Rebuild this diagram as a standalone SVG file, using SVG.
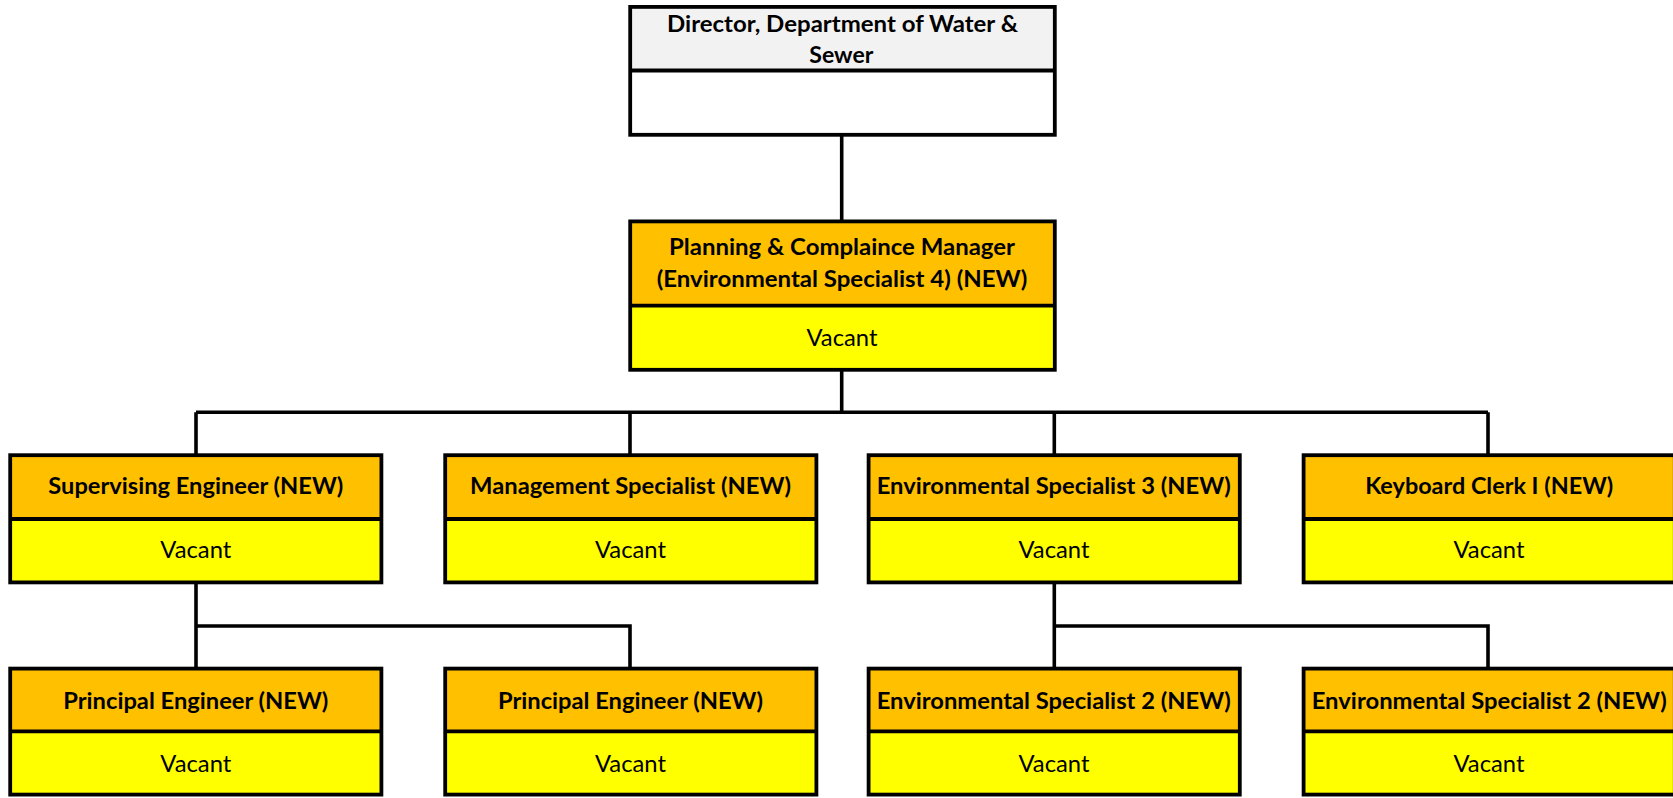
<svg xmlns="http://www.w3.org/2000/svg" width="1673" height="798" viewBox="0 0 1673 798">
  <style>
    .frame { fill: none; stroke: #000; stroke-width: 3.8; }
    .div { stroke: #000; stroke-width: 3.8; }
    .grey { fill: #F2F2F2; }
    .white { fill: #FFFFFF; }
    .orange { fill: #FFC000; }
    .yellow { fill: #FFFF00; }
    .title { font-family: Lato, "Liberation Sans", sans-serif; font-weight: bold; font-size: 23px; fill: #000; text-anchor: middle; }
    .name { font-family: Lato, "Liberation Sans", sans-serif; font-size: 23px; fill: #000; text-anchor: middle; }
    .wire { fill: none; stroke: #000; stroke-width: 3.6; }
  </style>
  <rect width="1673" height="798" fill="#FFFFFF"/>

  <!-- reporting lines -->
  <g id="connectors">
    <path class="wire" d="M841.7 136 V220"/>
    <path class="wire" d="M841.7 371 V412.3"/>
    <path class="wire" d="M196 412.3 H1488"/>
    <path class="wire" d="M196 412.3 V454 M630 412.3 V454 M1054.3 412.3 V454 M1488 412.3 V454"/>
    <path class="wire" d="M196 583 V667 M196 626 H630 V667"/>
    <path class="wire" d="M1054.3 583 V667 M1054.3 626 H1488 V667"/>
  </g>

  <!-- director -->
  <g id="director">
    <rect class="grey" x="630.2" y="6.9" width="424.6" height="63.6"/>
    <rect class="white" x="630.2" y="70.5" width="424.6" height="64.3"/>
    <rect class="frame" x="630.2" y="6.9" width="424.6" height="127.9"/>
    <line class="div" x1="630.2" y1="70.5" x2="1054.8" y2="70.5"/>
    <text class="title" x="842.5" y="31.7" textLength="351" lengthAdjust="spacingAndGlyphs">Director, Department of Water &amp;</text>
    <text class="title" x="841.3" y="63.3" textLength="64" lengthAdjust="spacingAndGlyphs">Sewer</text>
  </g>

  <!-- planning & compliance manager -->
  <g id="manager">
    <rect class="orange" x="630.2" y="221.4" width="424.6" height="84.3"/>
    <rect class="yellow" x="630.2" y="305.7" width="424.6" height="64.1"/>
    <rect class="frame" x="630.2" y="221.4" width="424.6" height="148.4"/>
    <line class="div" x1="630.2" y1="305.7" x2="1054.8" y2="305.7"/>
    <text class="title" x="842" y="255" textLength="346" lengthAdjust="spacingAndGlyphs">Planning &amp; Complaince Manager</text>
    <text class="title" x="842" y="287" textLength="370.6" lengthAdjust="spacingAndGlyphs">(Environmental Specialist 4) (NEW)</text>
    <text class="name" x="842" y="345.7" textLength="71" lengthAdjust="spacingAndGlyphs">Vacant</text>
  </g>

  <!-- second tier -->
  <g id="supervising-engineer">
    <rect class="orange" x="10.2" y="455.2" width="371.2" height="63.8"/>
    <rect class="yellow" x="10.2" y="519" width="371.2" height="63.4"/>
    <rect class="frame" x="10.2" y="455.2" width="371.2" height="127.2"/>
    <line class="div" x1="10.2" y1="519" x2="381.4" y2="519"/>
    <text class="title" x="195.8" y="494.3" textLength="295" lengthAdjust="spacingAndGlyphs">Supervising Engineer (NEW)</text>
    <text class="name" x="195.8" y="558.3" textLength="71" lengthAdjust="spacingAndGlyphs">Vacant</text>
  </g>
  <g id="management-specialist">
    <rect class="orange" x="445.2" y="455.2" width="371.2" height="63.8"/>
    <rect class="yellow" x="445.2" y="519" width="371.2" height="63.4"/>
    <rect class="frame" x="445.2" y="455.2" width="371.2" height="127.2"/>
    <line class="div" x1="445.2" y1="519" x2="816.4" y2="519"/>
    <text class="title" x="630.5" y="494.3" textLength="321" lengthAdjust="spacingAndGlyphs">Management Specialist (NEW)</text>
    <text class="name" x="630.5" y="558.3" textLength="71" lengthAdjust="spacingAndGlyphs">Vacant</text>
  </g>
  <g id="environmental-specialist-3">
    <rect class="orange" x="868.6" y="455.2" width="371.2" height="63.8"/>
    <rect class="yellow" x="868.6" y="519" width="371.2" height="63.4"/>
    <rect class="frame" x="868.6" y="455.2" width="371.2" height="127.2"/>
    <line class="div" x1="868.6" y1="519" x2="1239.8" y2="519"/>
    <text class="title" x="1053.7" y="494.3" textLength="354" lengthAdjust="spacingAndGlyphs">Environmental Specialist 3 (NEW)</text>
    <text class="name" x="1054" y="558.3" textLength="71" lengthAdjust="spacingAndGlyphs">Vacant</text>
  </g>
  <g id="keyboard-clerk">
    <rect class="orange" x="1303.6" y="455.2" width="371.2" height="63.8"/>
    <rect class="yellow" x="1303.6" y="519" width="371.2" height="63.4"/>
    <rect class="frame" x="1303.6" y="455.2" width="371.2" height="127.2"/>
    <line class="div" x1="1303.6" y1="519" x2="1674.8" y2="519"/>
    <text class="title" x="1489.2" y="494.3" textLength="248" lengthAdjust="spacingAndGlyphs">Keyboard Clerk I (NEW)</text>
    <text class="name" x="1489" y="558.3" textLength="71" lengthAdjust="spacingAndGlyphs">Vacant</text>
  </g>

  <!-- third tier -->
  <g id="principal-engineer-1">
    <rect class="orange" x="10.2" y="668.6" width="371.2" height="62.7"/>
    <rect class="yellow" x="10.2" y="731.3" width="371.2" height="63.3"/>
    <rect class="frame" x="10.2" y="668.6" width="371.2" height="126"/>
    <line class="div" x1="10.2" y1="731.3" x2="381.4" y2="731.3"/>
    <text class="title" x="195.8" y="709" textLength="265" lengthAdjust="spacingAndGlyphs">Principal Engineer (NEW)</text>
    <text class="name" x="195.8" y="771.7" textLength="71" lengthAdjust="spacingAndGlyphs">Vacant</text>
  </g>
  <g id="principal-engineer-2">
    <rect class="orange" x="445.2" y="668.6" width="371.2" height="62.7"/>
    <rect class="yellow" x="445.2" y="731.3" width="371.2" height="63.3"/>
    <rect class="frame" x="445.2" y="668.6" width="371.2" height="126"/>
    <line class="div" x1="445.2" y1="731.3" x2="816.4" y2="731.3"/>
    <text class="title" x="630.5" y="709" textLength="265" lengthAdjust="spacingAndGlyphs">Principal Engineer (NEW)</text>
    <text class="name" x="630.5" y="771.7" textLength="71" lengthAdjust="spacingAndGlyphs">Vacant</text>
  </g>
  <g id="environmental-specialist-2a">
    <rect class="orange" x="868.6" y="668.6" width="371.2" height="62.7"/>
    <rect class="yellow" x="868.6" y="731.3" width="371.2" height="63.3"/>
    <rect class="frame" x="868.6" y="668.6" width="371.2" height="126"/>
    <line class="div" x1="868.6" y1="731.3" x2="1239.8" y2="731.3"/>
    <text class="title" x="1053.7" y="709" textLength="354" lengthAdjust="spacingAndGlyphs">Environmental Specialist 2 (NEW)</text>
    <text class="name" x="1054" y="771.7" textLength="71" lengthAdjust="spacingAndGlyphs">Vacant</text>
  </g>
  <g id="environmental-specialist-2b">
    <rect class="orange" x="1303.6" y="668.6" width="371.2" height="62.7"/>
    <rect class="yellow" x="1303.6" y="731.3" width="371.2" height="63.3"/>
    <rect class="frame" x="1303.6" y="668.6" width="371.2" height="126"/>
    <line class="div" x1="1303.6" y1="731.3" x2="1674.8" y2="731.3"/>
    <text class="title" x="1489.2" y="709" textLength="355" lengthAdjust="spacingAndGlyphs">Environmental Specialist 2 (NEW)</text>
    <text class="name" x="1489" y="771.7" textLength="71" lengthAdjust="spacingAndGlyphs">Vacant</text>
  </g>
</svg>
